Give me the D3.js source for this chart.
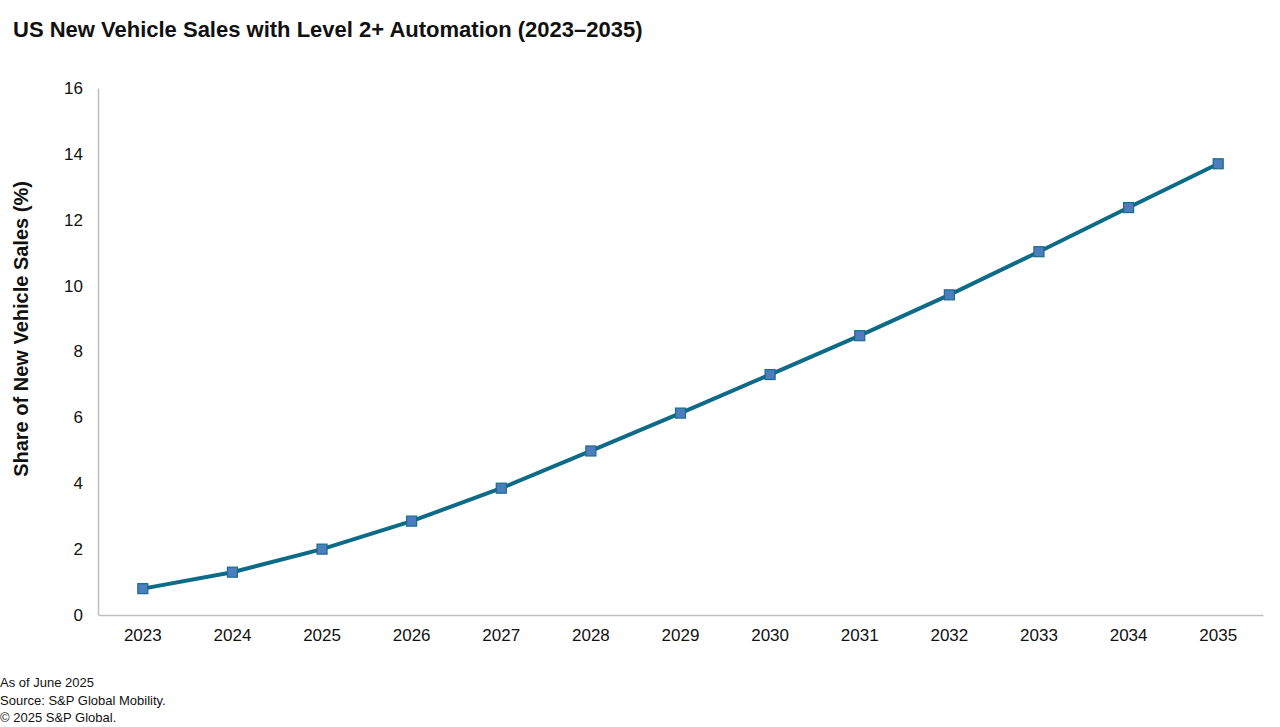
<!DOCTYPE html>
<html>
<head>
<meta charset="utf-8">
<script src="https://cdn.jsdelivr.net/npm/d3@7"></script>
<style>
  body { margin: 0; background: #fff; }
  svg { font-family: "Liberation Sans", Arial, sans-serif; }
</style>
</head>
<body>
<div class="container"></div>
<script>
var years = ['2023', '2024', '2025', '2026', '2027', '2028', '2029', '2030', '2031', '2032', '2033', '2034', '2035'];
var share = [0.8, 1.3, 2.0, 2.85, 3.85, 4.98, 6.13, 7.3, 8.48, 9.72, 11.03, 12.37, 13.7];
var yTicks = [0, 2, 4, 6, 8, 10, 12, 14, 16];
var notes = ['As of June 2025', 'Source: S&P Global Mobility.', '\u00a9 2025 S&P Global.'];

var width = 1280, height = 727;
var margin = {left: 98, right: 17, top: 88, bottom: 112};

var svg = d3.select('.container')
            .append('svg')
              .attr('width', width)
              .attr('height', height);

var x = d3.scaleBand()
          .domain(years)
          .range([margin.left, width - margin.right]);

var y = d3.scaleLinear()
          .domain([0, 16])
          .range([height - margin.bottom, margin.top]);

// title
svg.append('text')
    .attr('x', 13)
    .attr('y', 37)
    .style('font-weight', 'bold')
    .style('font-size', '22px')
    .style('fill', '#111')
    .text('US New Vehicle Sales with Level 2+ Automation (2023\u20132035)');

// y axis
var yAxis = svg.append('g')
    .attr('transform', 'translate(' + margin.left + ',0)')
    .call(d3.axisLeft(y).tickValues(yTicks).tickSize(0).tickPadding(15));
yAxis.select('.domain').attr('stroke', '#bfbfbf').attr('stroke-width', 1.5);
yAxis.selectAll('text').style('font-size', '17px').style('fill', '#111');

// x axis
var xAxis = svg.append('g')
    .attr('transform', 'translate(0,' + (height - margin.bottom) + ')')
    .call(d3.axisBottom(x).tickSize(0).tickPadding(14));
xAxis.select('.domain').attr('stroke', '#bfbfbf').attr('stroke-width', 1.5);
xAxis.selectAll('text').style('font-size', '17px').style('fill', '#111');

// y label
svg.append('text')
    .attr('transform', 'translate(28,329) rotate(-90)')
    .attr('text-anchor', 'middle')
    .style('font-weight', 'bold')
    .style('font-size', '20px')
    .style('fill', '#111')
    .text('Share of New Vehicle Sales (%)');

// line
var line = d3.line()
    .x(function(d, i) { return x(years[i]) + x.bandwidth() / 2; })
    .y(function(d) { return y(d); });

svg.append('path')
    .datum(share)
    .attr('d', line)
    .style('fill', 'none')
    .style('stroke', '#0e6b88')
    .style('stroke-width', 4);

var sz = 10;
svg.selectAll('rect.marker')
    .data(share)
    .enter()
    .append('rect')
      .attr('class', 'marker')
      .attr('x', function(d, i) { return x(years[i]) + x.bandwidth() / 2 - sz / 2; })
      .attr('y', function(d) { return y(d) - sz / 2; })
      .attr('width', sz)
      .attr('height', sz)
      .style('fill', '#4a7ebf')
      .style('stroke', '#1b6b8a')
      .style('stroke-width', 1.2);

// footnotes
svg.selectAll('text.note')
    .data(notes)
    .enter()
    .append('text')
      .attr('class', 'note')
      .attr('x', 0)
      .attr('y', function(d, i) { return 687 + i * 17.5; })
      .style('font-size', '13px')
      .style('fill', '#111')
      .text(function(d) { return d; });
</script>
</body>
</html>
